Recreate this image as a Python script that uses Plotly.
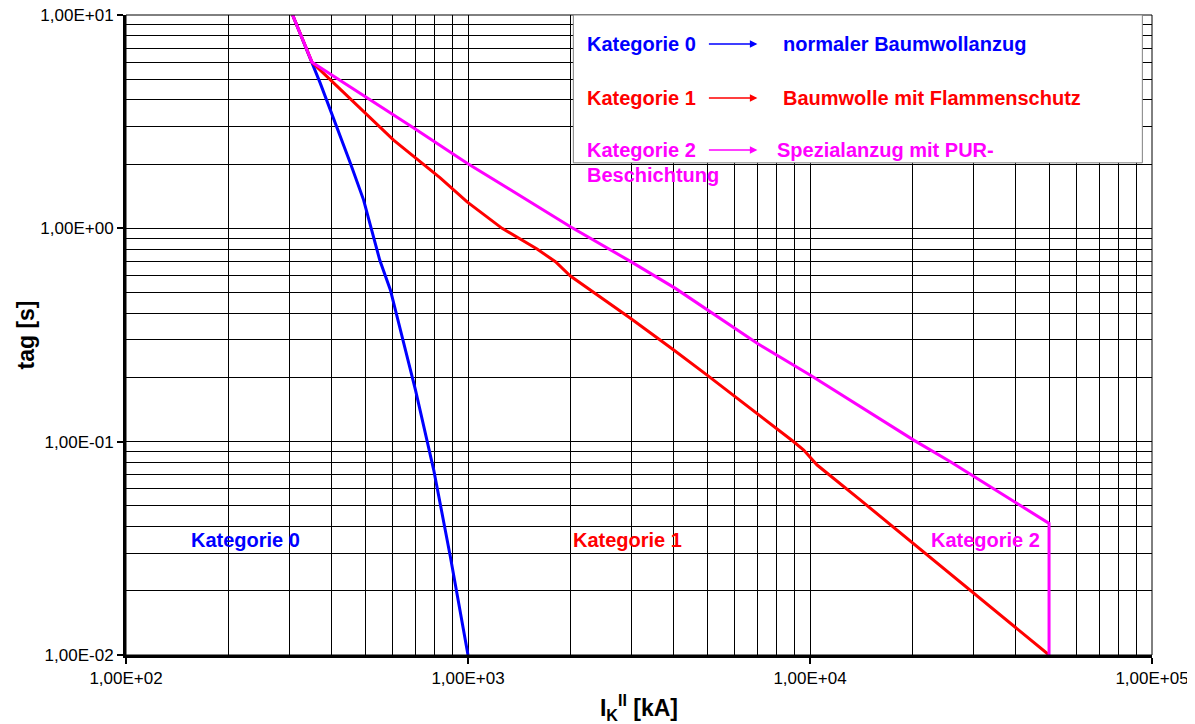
import plotly.graph_objects as go

# ---------------- data ----------------
blue_I = [307, 326, 350, 370, 453, 495, 552, 593, 702, 794, 888, 1000]
blue_t = [10, 7.9, 6.0, 4.78, 2.02, 1.36, 0.71, 0.514, 0.175, 0.0736, 0.0289, 0.01]

red_I = [307, 326, 350, 606, 831, 994, 1258, 1592, 1802, 1993, 2985, 3996, 5002,
         8962, 9585, 10490, 14050, 50000]
red_t = [10, 7.9, 6.0, 2.59, 1.72, 1.33, 1.0, 0.80, 0.697, 0.598, 0.379, 0.269, 0.205,
         0.0999, 0.0913, 0.0777, 0.0532, 0.01]

mag_I = [307, 326, 350, 694, 994, 1993, 2985, 4041, 7003, 10030, 20100, 25740,
         50000, 50000]
mag_t = [10, 7.9, 6.0, 2.95, 2.02, 1.017, 0.70, 0.523, 0.289, 0.205, 0.1017, 0.0805,
         0.0414, 0.01]

x_major = [1e2, 1e3, 1e4, 1e5]
x_major_text = ["1,00E+02", "1,00E+03", "1,00E+04", "1,00E+05"]
y_major = [1e-2, 1e-1, 1e0, 1e1]
y_major_text = ["1,00E-02", "1,00E-01", "1,00E+00", "1,00E+01"]
x_minor = [m * d for d in (1e2, 1e3, 1e4) for m in range(2, 10)]
y_minor = [m * d for d in (1e-2, 1e-1, 1e0) for m in range(2, 10)]

BLUE, RED, MAG = "#0000FF", "#FF0000", "#FF00FF"
FONT = "Arial, Liberation Sans, sans-serif"

fig = go.Figure()
for xs, ys, c in [(blue_I, blue_t, BLUE), (red_I, red_t, RED), (mag_I, mag_t, MAG)]:
    fig.add_trace(go.Scatter(x=xs, y=ys, mode="lines",
                             line=dict(color=c, width=3), showlegend=False,
                             hoverinfo="skip"))

axis_common = dict(
    showline=True, linecolor="black", linewidth=3,
    ticks="outside", ticklen=6, tickwidth=2, tickcolor="black",
    showgrid=True, gridcolor="black", gridwidth=1,
    zeroline=False, tickfont=dict(family=FONT, size=17, color="black"),
    ticklabeloverflow="allow",
)

fig.update_xaxes(type="log", range=[2, 5], tickmode="array",
                 tickvals=x_major, ticktext=x_major_text,
                 minor=dict(tickvals=x_minor, showgrid=True, gridcolor="black",
                            gridwidth=1, ticks=""),
                 title=dict(text="<b>I<sub>K</sub><sup>II</sup> [kA]</b>",
                            font=dict(family=FONT, size=23, color="black"),
                            standoff=14),
                 **axis_common)
fig.update_yaxes(type="log", range=[-2, 1], tickmode="array",
                 tickvals=y_major, ticktext=y_major_text,
                 minor=dict(tickvals=y_minor, showgrid=True, gridcolor="black",
                            gridwidth=1, ticks=""),
                 title=dict(text="<b>tag [s]</b>",
                            font=dict(family=FONT, size=23, color="black"),
                            standoff=0),
                 **axis_common)

shapes = [
    # thin frame (top / right)
    dict(type="rect", xref="x domain", yref="y domain", x0=0, x1=1, y0=0, y1=1,
         line=dict(color="black", width=1), layer="above"),
    # white text box
    dict(type="rect", xref="x domain", yref="y domain", x0=0.436, x1=0.9906,
         y0=0.769, y1=1.0, fillcolor="white", line=dict(color="#808080", width=1),
         layer="above"),
]
fig.update_layout(shapes=shapes)

def txt(x, y, s, color, anchor="left"):
    fig.add_annotation(xref="x domain", yref="y domain", x=x, y=y, text="<b>%s</b>" % s,
                       showarrow=False, xanchor=anchor, yanchor="middle",
                       font=dict(family=FONT, size=20, color=color))

def arrow(x_head, y, color):
    fig.add_annotation(xref="x domain", yref="y domain", x=x_head, y=y, text="",
                       showarrow=True, ax=-50, ay=0, axref="pixel", ayref="pixel",
                       arrowhead=2, arrowsize=1, arrowwidth=1.5, arrowcolor=color)

rows = [(0.9547, "Kategorie 0", "normaler Baumwollanzug", BLUE, 0.6388),
        (0.8703, "Kategorie 1", "Baumwolle mit Flammenschutz", RED, 0.6388),
        (0.789, "Kategorie 2", "Spezialanzug mit PUR-", MAG, 0.633)]
for y, a, b, c, xb in rows:
    txt(0.4478, y, a, c)
    arrow(0.6154, y, c)
    txt(xb, y, b, c)
txt(0.4478, 0.75, "Beschichtung", MAG)

txt(0.1164, 0.1797, "Kategorie 0", BLUE, "center")
txt(0.4887, 0.1797, "Kategorie 1", RED, "center")
txt(0.8376, 0.1797, "Kategorie 2", MAG, "center")

# page has an 8 px body margin; compensate so the plot area matches the reference
fig.update_layout(
    width=1187, height=716,
    margin=dict(l=118, r=43, t=7, b=69, autoexpand=False),
    paper_bgcolor="white", plot_bgcolor="white",
    font=dict(family=FONT, color="black"),
)

fig.write_html("out.html")
